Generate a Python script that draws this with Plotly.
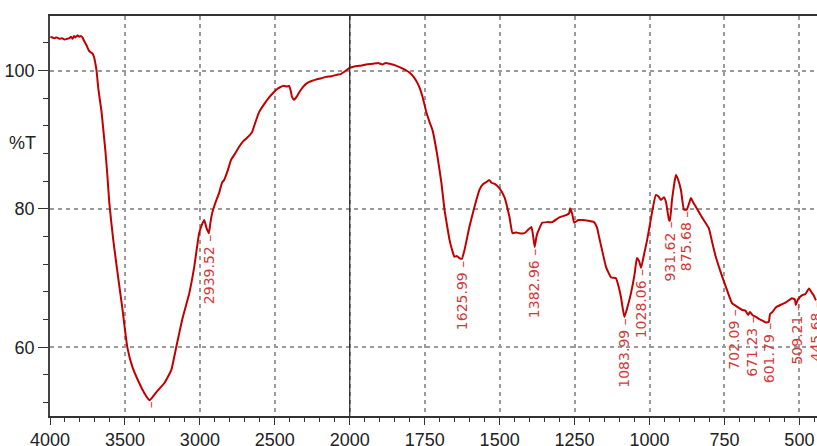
import numpy as np
import plotly.graph_objects as go

# ---------------- data ----------------
wavenumber = [
    3997, 3985, 3970, 3955, 3937, 3920, 3903, 3885, 3870, 3860, 3850, 3840, 3830, 3818,
    3804, 3795, 3784, 3770, 3757, 3745, 3737, 3725, 3717, 3704, 3697, 3690, 3677, 3657,
    3644, 3630, 3617, 3604, 3580, 3557, 3517, 3484, 3451, 3404, 3371, 3344, 3336, 3320, 3291,
    3238, 3191, 3158, 3118, 3071, 3038, 3005, 2985, 2971, 2955, 2940, 2930, 2918, 2895,
    2872, 2852, 2838, 2815, 2792, 2765, 2738, 2710, 2685, 2652, 2630, 2605, 2570, 2539,
    2515, 2492, 2465, 2439, 2420, 2405, 2395, 2385, 2372, 2355, 2339, 2310, 2285, 2255,
    2226, 2190, 2159, 2120, 2086, 2060, 2039, 2020, 2000, 1985, 1967, 1945, 1923, 1905,
    1890, 1880, 1867, 1850, 1834, 1815, 1800, 1785, 1774, 1765, 1757, 1744, 1734, 1724,
    1707, 1694, 1684, 1675, 1667, 1658, 1651, 1643, 1634, 1626, 1617, 1601, 1584, 1567,
    1555, 1544, 1535, 1527, 1515, 1501, 1484, 1467, 1457, 1445, 1434, 1417, 1405, 1394,
    1388, 1383, 1378, 1374, 1358, 1340, 1324, 1301, 1278, 1268, 1265, 1258, 1251, 1238,
    1225, 1205, 1185, 1175, 1168, 1157, 1145, 1128, 1112, 1102, 1095, 1084, 1075, 1062,
    1050, 1042, 1035, 1028, 1018, 1008, 992, 979, 970, 962, 952, 945, 935, 932,
    925, 918, 912, 905, 895, 885, 876, 868, 862, 855, 845, 825, 802, 790,
    779, 762, 745, 725, 712, 702, 690, 680, 671, 665, 655, 645, 635, 625,
    612, 602, 598, 590, 578, 560, 545, 525, 515, 512, 505, 492, 480, 468,
    460, 452, 445,
]
transmittance = [
    104.9, 104.8, 104.7, 104.8, 104.6, 104.7, 104.5, 104.6, 104.7, 104.9, 104.6, 105.0, 104.8, 105.1,
    104.9, 105.0, 104.8, 104.2, 103.7, 103.1, 102.8, 102.6, 102.5, 101.8, 101.0, 100.1, 97.3, 94.2,
    91.4, 88.3, 84.8, 80.8, 75.9, 72.0, 65.6, 60.0, 57.2, 54.8, 53.4, 52.5, 52.35, 52.7, 53.5,
    54.8, 56.7, 60.0, 64.0, 67.8, 71.6, 76.5, 77.8, 78.4, 77.2, 76.5, 78.0, 79.4, 81.0,
    82.3, 83.8, 84.2, 85.5, 87.1, 88.0, 89.0, 89.8, 90.3, 91.1, 92.5, 94.0, 95.2, 96.1,
    96.7, 97.2, 97.6, 97.8, 97.7, 97.8, 97.2, 96.2, 95.8, 96.2, 96.8, 97.7, 98.2, 98.5,
    98.7, 98.9, 99.1, 99.2, 99.4, 99.5, 99.8, 100.1, 100.4, 100.6, 100.7, 100.9, 101.0, 101.1,
    100.9, 101.1, 101.0, 100.8, 100.5, 100.1, 99.7, 99.0, 98.2, 97.3, 96.2, 93.9, 92.6, 91.4,
    87.5, 83.7, 79.9, 77.5, 75.5, 74.0, 73.1, 73.2, 72.9, 72.8, 74.1, 77.4, 80.3, 82.8,
    83.6, 83.9, 84.2, 83.8, 83.6, 83.0, 81.7, 78.8, 76.5, 76.6, 76.5, 76.5, 77.0, 77.4,
    76.0, 74.5, 75.8, 76.5, 78.0, 78.1, 78.1, 78.8, 79.1, 79.4, 80.1, 79.3, 78.0, 78.4,
    78.4, 78.3, 78.1, 77.3, 75.9, 73.8, 71.6, 70.1, 70.0, 68.6, 67.2, 64.4, 65.6, 67.8,
    70.5, 72.9, 72.5, 71.5, 73.5, 75.5, 79.4, 82.0, 81.8, 81.3, 81.7, 81.0, 78.4, 78.3,
    81.3, 83.5, 84.9, 84.3, 82.7, 79.9, 79.9, 80.8, 81.6, 81.0, 80.3, 78.8, 77.2, 75.0,
    73.1, 70.8, 68.7, 66.4, 66.0, 65.7, 65.4, 65.3, 64.7, 65.1, 64.6, 64.4, 64.1, 63.9,
    63.6, 63.7, 64.8, 65.1, 65.8, 66.2, 66.5, 67.1, 66.9, 66.1, 66.9, 67.5, 67.7, 68.5,
    68.0, 67.5, 66.8,
]
peak_wavenumbers = [2939.52, 1625.99, 1382.96, 1083.99, 1028.06, 931.62, 875.68,
                    702.09, 671.23, 601.79, 509.21, 445.68]
x_tick_values = [4000, 3500, 3000, 2500, 2000, 1750, 1500, 1250, 1000, 750, 500]
y_tick_values = [60, 80, 100]

# small horizontal nudges (px) so crowded labels do not overlap, as in the original
label_nudge = {702.09: -5, 671.23: 4}

# ---------------- piecewise wavenumber axis (scale change at 2000) ----------------
def to_axis(wn):
    wn = np.asarray(wn, dtype=float)
    return np.where(wn >= 2000, (4000 - wn) / 500.0, 4.0 + (2000 - wn) / 250.0)

CURVE = "#C00000"
LABEL = "#D23A3A"
NARROW = "Liberation Sans Narrow, Arial Narrow, Liberation Sans, sans-serif"

xs = to_axis(wavenumber)

fig = go.Figure()
fig.add_trace(go.Scatter(x=xs, y=transmittance, mode="lines",
                         line=dict(color=CURVE, width=2, shape="spline", smoothing=0.4),
                         hoverinfo="skip", showlegend=False, cliponaxis=True))

# break line at 2000 cm-1
fig.add_shape(type="line", x0=float(to_axis(2000)), x1=float(to_axis(2000)),
              y0=0, y1=1, yref="paper", xref="x",
              line=dict(color="#222222", width=1.2), layer="above")

# peak labels
wn_rev = np.array(wavenumber[::-1], dtype=float)
t_rev = np.array(transmittance[::-1], dtype=float)
for pk in peak_wavenumbers:
    yv = float(np.interp(pk, wn_rev, t_rev))
    fig.add_annotation(x=float(to_axis(pk)), y=yv, xref="x", yref="y",
                       text=f"{pk:.2f} –", showarrow=False, textangle=-90,
                       xanchor="center", yanchor="top", yshift=-1,
                       xshift=label_nudge.get(pk, 0),
                       font=dict(family="DejaVu Sans, sans-serif", size=14, color=LABEL),
                       borderpad=0)

# marker for the main minimum (its label falls below the frame)
imin = int(np.argmin(transmittance))
fig.add_annotation(x=float(xs[imin]), y=transmittance[imin], xref="x", yref="y",
                   text="–", showarrow=False, textangle=-90, xanchor="center",
                   yanchor="top", yshift=0, borderpad=0,
                   font=dict(family="DejaVu Sans, sans-serif", size=14, color=LABEL))

# %T label
fig.add_annotation(x=-0.036, y=89.5, xref="paper", yref="y", text="%T",
                   showarrow=False, xanchor="center", yanchor="middle",
                   font=dict(family=NARROW, size=18, color="#222222"))

x_max = 10.235

fig.update_layout(
    width=817, height=446,
    margin=dict(l=50, r=0, t=16, b=30, autoexpand=False),
    paper_bgcolor="white", plot_bgcolor="white",
    showlegend=False,
    xaxis=dict(
        range=[0, x_max], automargin=False,
        tickmode="array",
        tickvals=[float(v) for v in to_axis(x_tick_values)],
        ticktext=[str(v) for v in x_tick_values],
        ticks="outside", ticklen=7, tickwidth=1.2, tickcolor="#333333",
        showline=True, linecolor="#333333", linewidth=1.5, mirror=True,
        showgrid=True, gridcolor="#9a9a9a", gridwidth=1.5, griddash="4px,4px",
        zeroline=False,
        tickfont=dict(family=NARROW, size=18, color="#222222"),
        minor=dict(tickmode="linear", tick0=0, dtick=0.2, ticks="outside",
                   ticklen=4, tickwidth=1, tickcolor="#333333", showgrid=False),
    ),
    yaxis=dict(
        range=[50.07, 107.9], automargin=False,
        tickmode="array", tickvals=y_tick_values,
        ticktext=[str(v) for v in y_tick_values],
        ticks="outside", ticklen=10, tickwidth=1.2, tickcolor="#333333",
        showline=True, linecolor="#444444", linewidth=1.5,
        showgrid=True, gridcolor="#9a9a9a", gridwidth=1.5, griddash="4px,4px",
        zeroline=False,
        tickfont=dict(family=NARROW, size=18, color="#222222"),
        minor=dict(tickmode="linear", tick0=0, dtick=4, ticks="outside",
                   ticklen=5, tickwidth=1, tickcolor="#333333", showgrid=False),
    ),
)

fig.write_html(
    "out.html",
    config={"displayModeBar": False},
    post_script="document.body.style.margin='0px';document.body.style.padding='0px';"
                "document.documentElement.style.overflow='hidden';",
)
